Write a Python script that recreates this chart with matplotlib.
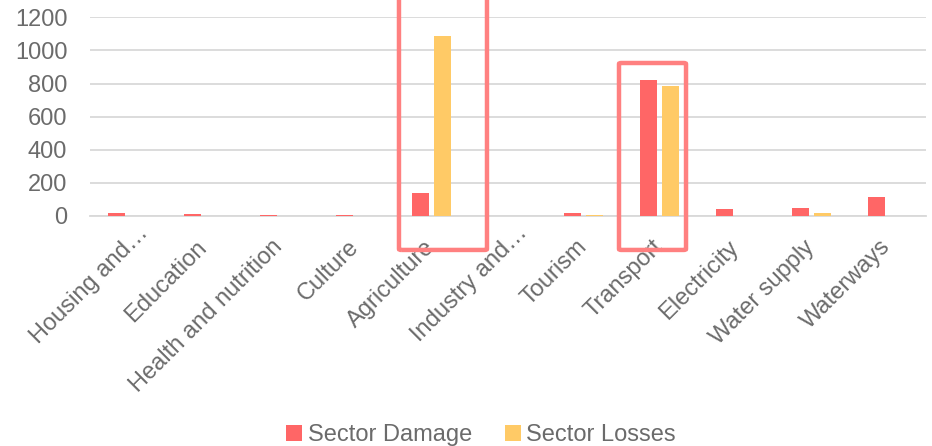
import matplotlib.pyplot as plt
import numpy as np
from matplotlib.patches import FancyBboxPatch
from matplotlib.transforms import ScaledTranslation

plt.rcParams["font.family"] = ["Liberation Sans", "DejaVu Sans"]

sectors = [
    "Housing and…",
    "Education",
    "Health and nutrition",
    "Culture",
    "Agriculture",
    "Industry and…",
    "Tourism",
    "Transport",
    "Electricity",
    "Water supply",
    "Waterways",
]
sector_damage = [18, 12, 5, 4, 137, 0, 18, 820, 40, 48, 113]
sector_losses = [0, 0, 2, 1, 1087, 0, 5, 784, 0, 18, 0]

DAMAGE_COLOR = "#FF6666"
LOSSES_COLOR = "#FFCA66"
HIGHLIGHT_COLOR = "#FF8080"
TEXT_COLOR = "#6B6B6B"
GRID_COLOR = "#D9D9D9"
FONT_SIZE = 17


def main() -> None:
    fig = plt.figure(figsize=(9.32, 4.46), dpi=100)
    ax = fig.add_axes([89.5 / 932, 230 / 446, 836 / 932, 198.7 / 446])

    x = np.arange(len(sectors))
    width = 0.224
    offset = 0.145

    ax.bar(x - offset, sector_damage, width, color=DAMAGE_COLOR,
           linewidth=0, label="Sector Damage", zorder=3)
    ax.bar(x + offset, sector_losses, width, color=LOSSES_COLOR,
           linewidth=0, label="Sector Losses", zorder=3)

    ax.set_xlim(-0.5, len(sectors) - 0.5)
    ax.set_ylim(0, 1200)
    ax.set_yticks(range(0, 1201, 200))
    ax.yaxis.grid(True, color=GRID_COLOR, linewidth=1.3, zorder=0)
    ax.set_axisbelow(True)
    for side in ["top", "right", "left"]:
        ax.spines[side].set_visible(False)
    ax.spines["bottom"].set_color(GRID_COLOR)
    ax.spines["bottom"].set_linewidth(1.3)
    ax.tick_params(axis="both", length=0, labelsize=FONT_SIZE,
                   labelcolor=TEXT_COLOR)
    ax.tick_params(axis="y", pad=16)
    ax.tick_params(axis="x", pad=20)

    ax.set_xticks(x)
    ax.set_xticklabels(sectors, rotation=45, ha="right", va="center",
                       rotation_mode="anchor")
    # truncated labels sit a little further along their own direction
    for label in ax.get_xticklabels():
        if label.get_text().endswith("…"):
            label.set_transform(label.get_transform() + ScaledTranslation(
                0.17, 0.14, fig.dpi_scale_trans))

    # highlight boxes around agriculture and transport
    boxes = [
        (4 - 0.428, 4 + 0.730, -205, 1400),
        (7 - 0.533, 7 + 0.349, -205, 924),
    ]
    for x0, x1, y0, y1 in boxes:
        rect = FancyBboxPatch((x0, y0), x1 - x0, y1 - y0,
                              boxstyle="round,pad=0,rounding_size=0.03",
                              fill=False, edgecolor=HIGHLIGHT_COLOR,
                              linewidth=3.2, clip_on=False, zorder=4,
                              mutation_aspect=200)
        ax.add_patch(rect)

    fig.legend(loc="center", bbox_to_anchor=(481 / 932, 11 / 446),
               ncol=2, frameon=False, fontsize=FONT_SIZE,
               labelcolor=TEXT_COLOR, handlelength=0.68, handleheight=0.68,
               handletextpad=0.22, columnspacing=1.4)

    fig.savefig("out.png", dpi=100)


if __name__ == "__main__":
    main()
